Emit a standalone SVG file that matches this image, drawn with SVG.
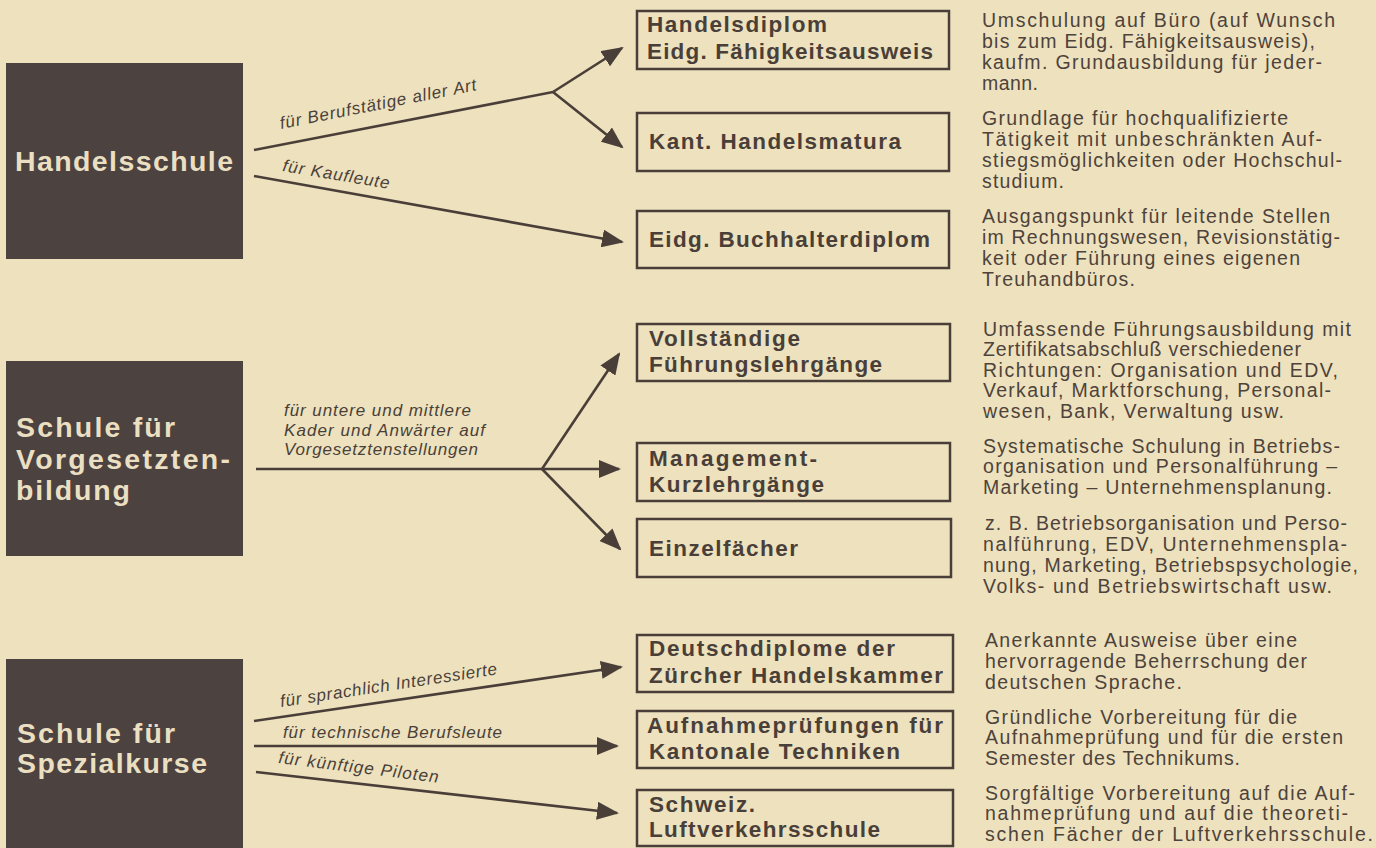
<svg xmlns="http://www.w3.org/2000/svg" width="1376" height="848" viewBox="0 0 1376 848">
<defs>
<style>
.bg{fill:#ede1be}
.school rect{fill:#4c4340}
.school text{font-family:"Liberation Sans",Arial,sans-serif;font-weight:bold;fill:#ebdfc2;font-size:28.5px}
.box rect{fill:none;stroke:#4a3f38;stroke-width:2.5}
.box text{font-family:"Liberation Sans",Arial,sans-serif;font-weight:bold;fill:#4a3f38;font-size:22.5px}
.desc text{font-family:"Liberation Sans",Arial,sans-serif;fill:#4e433b;font-size:19.5px}
.lbl{font-family:"Liberation Sans",Arial,sans-serif;font-style:italic;fill:#4a3f38;font-size:17px}
.conn path{fill:none;stroke:#4a3f38;stroke-width:2.6}
</style>
<marker id="ah" markerUnits="userSpaceOnUse" markerWidth="22" markerHeight="18" refX="20" refY="9" orient="auto">
<path d="M0,0 L22,9 L0,18 z" fill="#4a3f38"/>
</marker>
</defs>
<rect class="bg" x="0" y="0" width="1376" height="848"/>

<g id="handelsschule" class="school">
<rect x="6" y="63" width="237" height="196"/>
<text x="15" y="171" font-size="30" textLength="218" lengthAdjust="spacing">Handelsschule</text>
</g>
<g id="vorgesetzten" class="school">
<rect x="6" y="361" width="237" height="195"/>
<text x="16" y="437" textLength="159" lengthAdjust="spacing">Schule für</text>
<text x="16" y="469" textLength="214" lengthAdjust="spacing">Vorgesetzten-</text>
<text x="16" y="500" textLength="114" lengthAdjust="spacing">bildung</text>
</g>
<g id="spezialkurse" class="school">
<rect x="6" y="659" width="237" height="200"/>
<text x="17" y="743" textLength="158" lengthAdjust="spacing">Schule für</text>
<text x="17" y="773" textLength="190" lengthAdjust="spacing">Spezialkurse</text>
</g>

<g id="connectors" class="conn">
<path d="M254,150 L553,92"/>
<path d="M553,92 L622,48" marker-end="url(#ah)"/>
<path d="M553,92 L622,147" marker-end="url(#ah)"/>
<path d="M254,176 L622,242" marker-end="url(#ah)"/>
<path d="M256,469 L542,469"/>
<path d="M542,469 L619,354" marker-end="url(#ah)"/>
<path d="M542,469 L619,469" marker-end="url(#ah)"/>
<path d="M542,469 L620,549" marker-end="url(#ah)"/>
<path d="M254,721 L621,667" marker-end="url(#ah)"/>
<path d="M254,746 L617,746" marker-end="url(#ah)"/>
<path d="M256,772 L617,813" marker-end="url(#ah)"/>
<text class="lbl" transform="translate(281,129) rotate(-11.2)" textLength="200" lengthAdjust="spacing">für Berufstätige aller Art</text>
<text class="lbl" transform="translate(282,171) rotate(9.5)" textLength="108" lengthAdjust="spacing">für Kaufleute</text>
<text class="lbl" x="284" y="416" textLength="187" lengthAdjust="spacing">für untere und mittlere</text>
<text class="lbl" x="284" y="436" textLength="201" lengthAdjust="spacing">Kader und Anwärter auf</text>
<text class="lbl" x="284" y="455" textLength="194" lengthAdjust="spacing">Vorgesetztenstellungen</text>
<text class="lbl" transform="translate(281,707) rotate(-8.6)" textLength="219" lengthAdjust="spacing">für sprachlich Interessierte</text>
<text class="lbl" x="283" y="738" textLength="219" lengthAdjust="spacing">für technische Berufsleute</text>
<text class="lbl" transform="translate(278,763) rotate(7)" textLength="161" lengthAdjust="spacing">für künftige Piloten</text>
</g>

<g id="handelsdiplom" class="box">
<rect x="637" y="11" width="312" height="58"/>
<text x="647" y="32" textLength="180" lengthAdjust="spacing">Handelsdiplom</text>
<text x="647" y="59" textLength="286" lengthAdjust="spacing">Eidg. Fähigkeitsausweis</text>
</g>
<g id="handelsmatura" class="box">
<rect x="637" y="113" width="312" height="58"/>
<text x="649" y="149" textLength="252" lengthAdjust="spacing">Kant. Handelsmatura</text>
</g>
<g id="buchhalterdiplom" class="box">
<rect x="637" y="211" width="312" height="57"/>
<text x="649" y="247" textLength="281" lengthAdjust="spacing">Eidg. Buchhalterdiplom</text>
</g>
<g id="fuehrungslehrgaenge" class="box">
<rect x="637" y="324" width="313" height="57"/>
<text x="649" y="346" textLength="151" lengthAdjust="spacing">Vollständige</text>
<text x="649" y="372" textLength="233" lengthAdjust="spacing">Führungslehrgänge</text>
</g>
<g id="management" class="box">
<rect x="637" y="443" width="313" height="58"/>
<text x="649" y="466" textLength="168" lengthAdjust="spacing">Management-</text>
<text x="649" y="492" textLength="175" lengthAdjust="spacing">Kurzlehrgänge</text>
</g>
<g id="einzelfaecher" class="box">
<rect x="637" y="519" width="314" height="58"/>
<text x="649" y="556" textLength="149" lengthAdjust="spacing">Einzelfächer</text>
</g>
<g id="deutschdiplome" class="box">
<rect x="637" y="635" width="316" height="57"/>
<text x="649" y="656" textLength="246" lengthAdjust="spacing">Deutschdiplome der</text>
<text x="649" y="683" textLength="294" lengthAdjust="spacing">Zürcher Handelskammer</text>
</g>
<g id="aufnahmepruefungen" class="box">
<rect x="637" y="711" width="316" height="57"/>
<text x="647" y="733" textLength="296" lengthAdjust="spacing">Aufnahmeprüfungen für</text>
<text x="649" y="759" textLength="251" lengthAdjust="spacing">Kantonale Techniken</text>
</g>
<g id="luftverkehrsschule" class="box">
<rect x="637" y="790" width="316" height="56"/>
<text x="649" y="812" textLength="106" lengthAdjust="spacing">Schweiz.</text>
<text x="649" y="837" textLength="231" lengthAdjust="spacing">Luftverkehrsschule</text>
</g>

<g id="descriptions" class="desc">
<text x="982" y="27" textLength="353" lengthAdjust="spacing">Umschulung auf Büro (auf Wunsch</text>
<text x="982" y="48" textLength="333" lengthAdjust="spacing">bis zum Eidg. Fähigkeitsausweis),</text>
<text x="982" y="69" textLength="340" lengthAdjust="spacing">kaufm. Grundausbildung für jeder-</text>
<text x="982" y="90" textLength="56" lengthAdjust="spacing">mann.</text>
<text x="982" y="125" textLength="306" lengthAdjust="spacing">Grundlage für hochqualifizierte</text>
<text x="982" y="146" textLength="340" lengthAdjust="spacing">Tätigkeit mit unbeschränkten Auf-</text>
<text x="982" y="167" textLength="360" lengthAdjust="spacing">stiegsmöglichkeiten oder Hochschul-</text>
<text x="982" y="188" textLength="82" lengthAdjust="spacing">studium.</text>
<text x="982" y="223" textLength="348" lengthAdjust="spacing">Ausgangspunkt für leitende Stellen</text>
<text x="982" y="244" textLength="358" lengthAdjust="spacing">im Rechnungswesen, Revisionstätig-</text>
<text x="982" y="265" textLength="318" lengthAdjust="spacing">keit oder Führung eines eigenen</text>
<text x="982" y="286" textLength="153" lengthAdjust="spacing">Treuhandbüros.</text>

<text x="983" y="336" textLength="368" lengthAdjust="spacing">Umfassende Führungsausbildung mit</text>
<text x="983" y="356" textLength="318" lengthAdjust="spacing">Zertifikatsabschluß verschiedener</text>
<text x="983" y="377" textLength="355" lengthAdjust="spacing">Richtungen: Organisation und EDV,</text>
<text x="983" y="397" textLength="348" lengthAdjust="spacing">Verkauf, Marktforschung, Personal-</text>
<text x="983" y="418" textLength="301" lengthAdjust="spacing">wesen, Bank, Verwaltung usw.</text>
<text x="983" y="453" textLength="357" lengthAdjust="spacing">Systematische Schulung in Betriebs-</text>
<text x="983" y="473" textLength="354" lengthAdjust="spacing">organisation und Personalführung –</text>
<text x="983" y="494" textLength="349" lengthAdjust="spacing">Marketing – Unternehmensplanung.</text>
<text x="985" y="530" textLength="362" lengthAdjust="spacing">z. B. Betriebsorganisation und Perso-</text>
<text x="983" y="551" textLength="364" lengthAdjust="spacing">nalführung, EDV, Unternehmenspla-</text>
<text x="983" y="572" textLength="375" lengthAdjust="spacing">nung, Marketing, Betriebspsychologie,</text>
<text x="983" y="593" textLength="349" lengthAdjust="spacing">Volks- und Betriebswirtschaft usw.</text>

<text x="985" y="647" textLength="312" lengthAdjust="spacing">Anerkannte Ausweise über eine</text>
<text x="985" y="668" textLength="322" lengthAdjust="spacing">hervorragende Beherrschung der</text>
<text x="985" y="689" textLength="197" lengthAdjust="spacing">deutschen Sprache.</text>
<text x="985" y="724" textLength="312" lengthAdjust="spacing">Gründliche Vorbereitung für die</text>
<text x="985" y="744" textLength="358" lengthAdjust="spacing">Aufnahmeprüfung und für die ersten</text>
<text x="985" y="765" textLength="255" lengthAdjust="spacing">Semester des Technikums.</text>
<text x="985" y="800" textLength="370" lengthAdjust="spacing">Sorgfältige Vorbereitung auf die Auf-</text>
<text x="985" y="820" textLength="363" lengthAdjust="spacing">nahmeprüfung und auf die theoreti-</text>
<text x="985" y="841" textLength="388" lengthAdjust="spacing">schen Fächer der Luftverkehrsschule.</text>
</g>
</svg>
